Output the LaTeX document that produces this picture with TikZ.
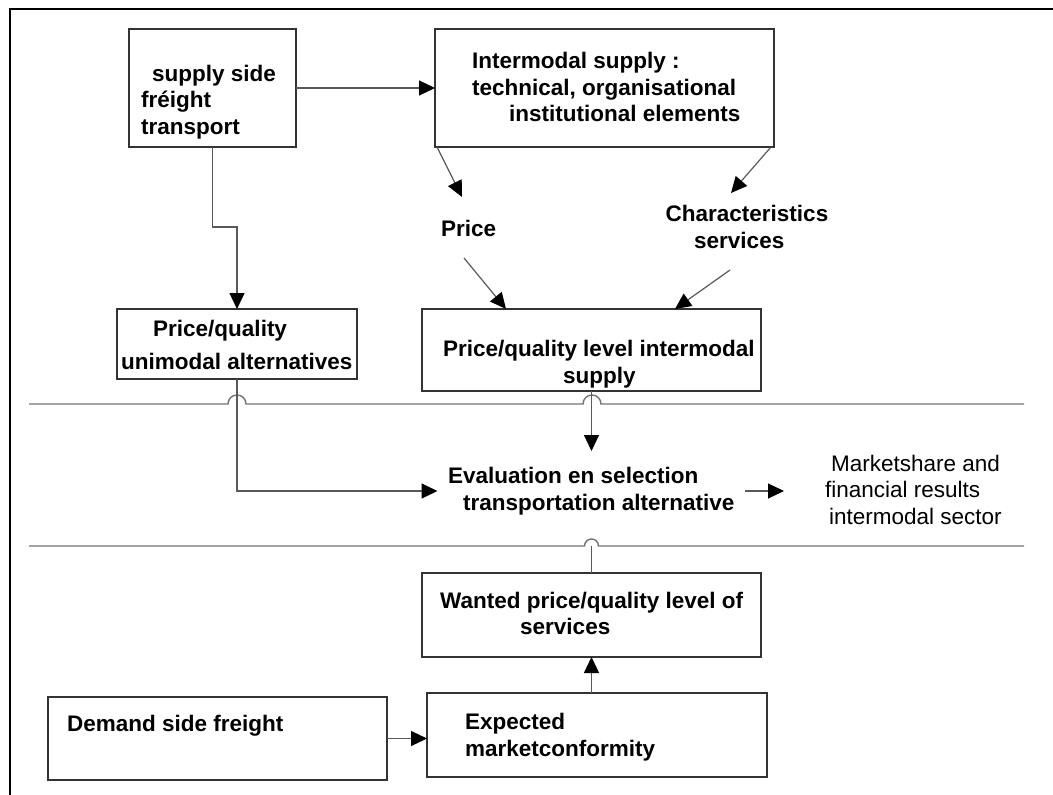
\documentclass[tikz,border=0pt]{standalone}
\usepackage{fontspec}
\setmainfont{Liberation Sans}
\usetikzlibrary{arrows.meta,calc}
\tikzset{
  box/.style={draw=black!80, line width=1.2pt, inner sep=0pt, outer sep=0pt, fill=none},
  lbl/.style={anchor=west, inner sep=0pt, font=\fontsize{22.5}{27}\selectfont\bfseries, text height=17pt, text depth=4pt},
  lblr/.style={lbl, font=\fontsize{22.5}{27}\selectfont},
  conn/.style={draw=black!65, line width=1.2pt},
  arr/.style={conn, -{Triangle[length=16pt,width=15pt,color=black]}},
  sep/.style={draw=black!55, line width=1.4pt},
}
\begin{document}
\begin{tikzpicture}[x=1pt,y=-1pt]
\useasboundingbox (0,0) rectangle (1053,795);
% frame (top and left only)
\draw[line width=2pt] (9.5,795) -- (9.5,8.5) -- (1053,8.5);

% boxes
\node[box, minimum width=167pt, minimum height=118pt] (supply) at (212.5,88) {};
\node[box, minimum width=339pt, minimum height=118pt] (inter) at (604.5,88) {};
\node[box, minimum width=240pt, minimum height=70pt] (uni) at (237,344) {};
\node[box, minimum width=339pt, minimum height=82pt] (level) at (591.5,350) {};
\node[box, minimum width=339pt, minimum height=84pt] (wanted) at (591.5,615) {};
\node[box, minimum width=340pt, minimum height=84pt] (expected) at (597,735) {};
\node[box, minimum width=339pt, minimum height=83pt] (demand) at (217.5,738.5) {};

% texts
\node[lbl] (s1) at (152,75) {supply side};
\node[lbl] (s2) at (141,101) {fréight};
\node[lbl] (s3) at (141,128) {transport};

\node[lbl] (i1) at (472,62) {Intermodal supply :};
\node[lbl] (i2) at (472,89) {technical, organisational};
\node[lbl] (i3) at (509,115) {institutional elements};

\node[lbl] (price) at (441,230) {Price};
\node[lbl] (c1) at (665.5,215) {Characteristics};
\node[lbl] (c2) at (694,242) {services};

\node[lbl] (u1) at (153,330) {Price/quality};
\node[lbl] (u2) at (121,363) {unimodal alternatives};

\node[lbl] (l1) at (443,350) {Price/quality level intermodal};
\node[lbl] (l2) at (563,377) {supply};

\node[lbl] (e1) at (448,477) {Evaluation en selection};
\node[lbl] (e2) at (463,504) {transportation alternative};

\node[lblr] (m1) at (831,465) {Marketshare and};
\node[lblr] (m2) at (825,491) {financial results};
\node[lblr] (m3) at (829,518) {intermodal sector};

\node[lbl] (w1) at (440,602) {Wanted price/quality level of};
\node[lbl] (w2) at (520,628) {services};

\node[lbl] (x1) at (465,723) {Expected};
\node[lbl] (x2) at (465,750) {marketconformity};

\node[lbl] (d1) at (67,725) {Demand side freight};

% separator lines with line jumps
\draw[sep] (29,404) -- (228,404) arc[start angle=180,end angle=0,radius=9pt]
  -- (583,404) arc[start angle=180,end angle=0,radius=9pt] -- (1024,404);
\draw[sep] (29,546) -- (584.5,546) arc[start angle=180,end angle=0,radius=7pt] -- (1024,546);

% coordinates for free connector ends
\coordinate (pa) at (437,147);
\coordinate (pt) at (462,197);
\coordinate (ca) at (771,147);
\coordinate (ct) at (731,193);
\coordinate (pb) at (464,258);
\coordinate (pe) at (506,309);
\coordinate (cb) at (730,270);
\coordinate (ce) at (675,309);
\coordinate (evalin) at (437.5,491);
\coordinate (evaltop) at (591.5,451);
\coordinate (evalout) at (745,491);
\coordinate (mktin) at (784,491);
\coordinate (sep2) at (591.5,546);

% connectors
\draw[arr] (supply.east) -- (inter.west);
\draw[arr] (supply.south) -- ++(0,80) -| (uni.north);
\draw[arr] (pa) -- (pt);
\draw[arr] (ca) -- (ct);
\draw[arr] (pb) -- (pe);
\draw[arr] (cb) -- (ce);
\draw[arr] (uni.south) |- (evalin);
\draw[arr] (level.south) -- (evaltop);
\draw[arr] (evalout) -- (mktin);
\draw[conn] (wanted.north) -- (sep2);
\draw[arr] (expected.north -| wanted.south) -- (wanted.south);
\draw[arr] (demand.east) -- (demand.east -| expected.west);
\end{tikzpicture}
\end{document}
